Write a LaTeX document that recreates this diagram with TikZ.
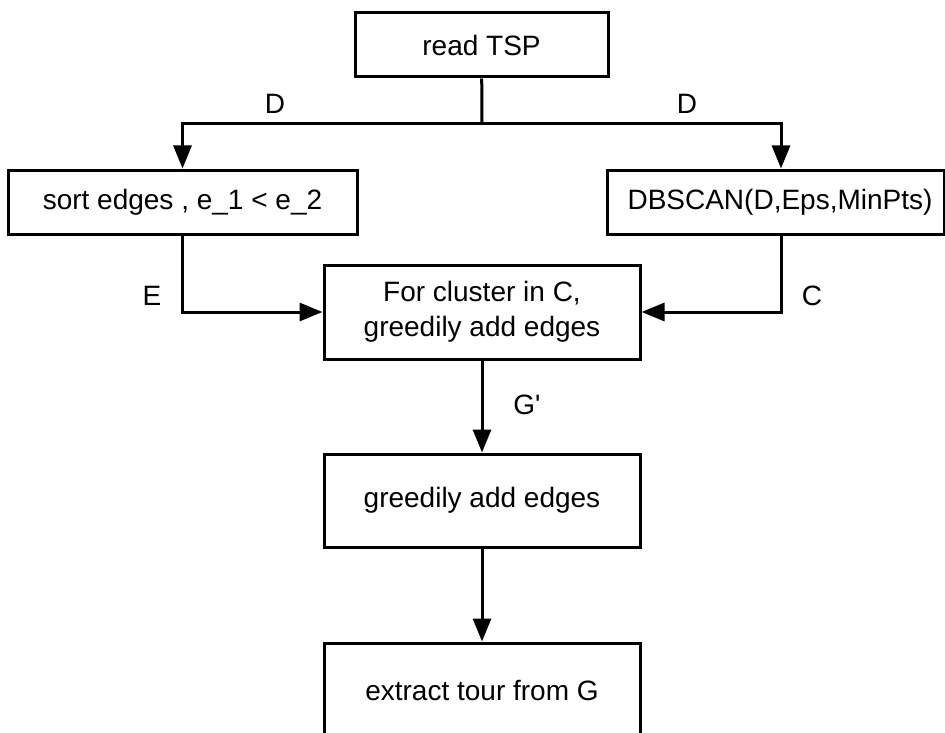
\documentclass[tikz,border=0pt]{standalone}
\usepackage{fontspec}
\setmainfont{Liberation Sans}[Ligatures=TeXOff]
\usetikzlibrary{arrows.meta}
\begin{document}
\begin{tikzpicture}[x=1pt,y=-1pt,
  box/.style={draw=black,line width=3pt,fill=white,inner sep=0pt,align=center,
    font=\fontsize{28}{35}\selectfont},
  conn/.style={line width=3pt,draw=black},
  arr/.style={conn,-{Triangle[length=23pt,width=18pt]}},
  lbl/.style={font=\fontsize{28}{32}\selectfont,inner sep=0pt}]
\clip (0,0) rectangle (945,733);
\node[box,minimum width=253pt,minimum height=64pt] (read) at (481.5,45) {read TSP};
\node[box,minimum width=349pt,minimum height=64pt] (sort) at (182.5,202) {sort edges , e\_1 < e\_2};
\node[box,minimum width=337pt,minimum height=64pt] (dbscan) at (776,202) {\hspace*{8pt}DBSCAN(D,Eps,MinPts)};
\node[box,minimum width=316pt,minimum height=94pt] (cluster) at (482,312) {For cluster in C,\\greedily add edges};
\node[box,minimum width=316pt,minimum height=93pt] (greedy) at (482,500.5) {greedily add edges};
\node[box,minimum width=316pt,minimum height=94pt] (extract) at (482,690) {extract tour from G};
\coordinate (split) at (482,124);
\draw[conn] (read) -- (split);
\draw[arr] (split) -| (sort.north);
\draw[arr] (split) -| ([xshift=5pt]dbscan.north);
\draw[arr] (sort.south) |- (cluster.west);
\draw[arr] ([xshift=5pt]dbscan.south) |- (cluster.east);
\draw[arr] (cluster) -- (greedy);
\draw[arr] (greedy) -- (extract);
\node[lbl] (dl) at (275,104) {D};
\node[lbl] (dr) at (687,104) {D};
\node[lbl] (e) at (152,296) {E};
\node[lbl] (c) at (812,296) {C};
\node[lbl] (g) at (527,405) {G'};
\end{tikzpicture}
\end{document}
